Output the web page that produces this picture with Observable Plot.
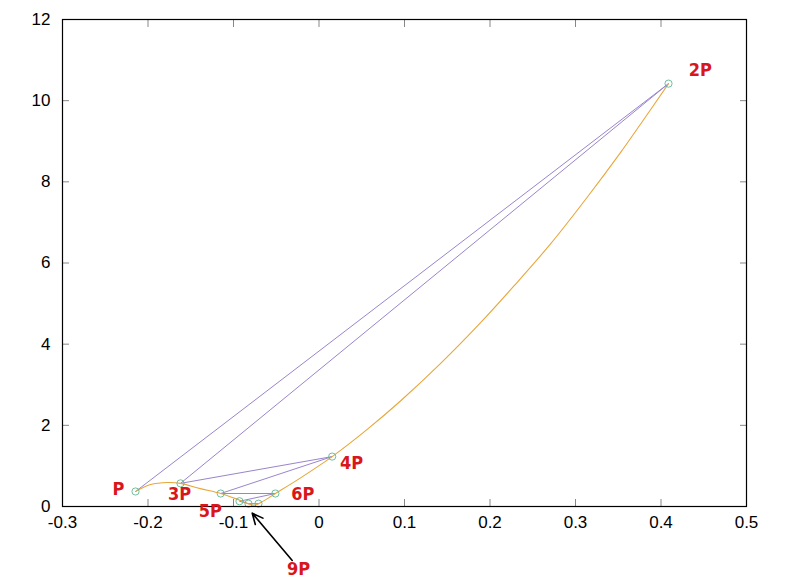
<!DOCTYPE html>
<html>
<head>
<meta charset="utf-8">
<script src="https://cdn.jsdelivr.net/npm/d3@7"></script>
<script src="https://cdn.jsdelivr.net/npm/@observablehq/plot@0.6"></script>
<style>
  html, body { margin: 0; padding: 0; background: #ffffff; }
  #chart svg { display: block; }
</style>
</head>
<body>
<div id="chart"></div>
<script>
// Multiples of the point P (in the order they are connected)
const multipleNames = ["P", "2P", "3P", "4P", "5P", "6P", "7P", "8P", "9P"];
const multipleX = [-0.2146, 0.4088, -0.162, 0.0154, -0.115, -0.051, -0.093, -0.0825, -0.0708];
const multipleY = [0.37, 10.42, 0.57, 1.23, 0.32, 0.32, 0.13, 0.07, 0.07];

// The orange curve
const curveX = [-0.2146, -0.197, -0.177, -0.162, -0.139, -0.115, -0.092, -0.0766, -0.068, -0.051, -0.022, 0.0154, 0.0564, 0.0953, 0.142, 0.189, 0.2278, 0.2708, 0.3137, 0.3526, 0.378, 0.4088];
const curveY = [0.37, 0.54, 0.59, 0.57, 0.44, 0.32, 0.15, 0.03, 0.10, 0.32, 0.70, 1.23, 1.90, 2.60, 3.52, 4.53, 5.43, 6.47, 7.62, 8.72, 9.48, 10.42];

// Red labels
const labelText = ["P", "2P", "3P", "4P", "5P", "6P", "9P"];
const labelX = [-0.2345, 0.446, -0.163, 0.038, -0.127, -0.019, -0.024];
const labelY = [0.42, 10.74, 0.30, 1.06, -0.12, 0.30, -1.55];

// Arrow pointing at 9P
const arrowTail = [-0.0313, -1.33];
const arrowHead = [-0.0781, -0.165];

// Ticks
const xTicks = [-0.3, -0.2, -0.1, 0, 0.1, 0.2, 0.3, 0.4, 0.5];
const yTicks = [0, 2, 4, 6, 8, 10, 12];

const multiples = multipleNames.map((name, i) => ({name, x: multipleX[i], y: multipleY[i]}));
const curve = curveX.map((x, i) => ({x, y: curveY[i]}));
const labels = labelText.map((t, i) => ({t, x: labelX[i], y: labelY[i]}));
const arrow = [{x1: arrowTail[0], y1: arrowTail[1], x2: arrowHead[0], y2: arrowHead[1]}];

const tickColor = "#888888";
const fmt = d => String(d);

const chart = Plot.plot({
  width: 800,
  height: 587,
  marginLeft: 62,
  marginRight: 54,
  marginTop: 19,
  marginBottom: 81,
  style: {fontFamily: "'Liberation Sans', Arial, sans-serif", fontSize: "17px", background: "#ffffff", color: "#000"},
  x: {domain: [-0.3, 0.5], label: null},
  y: {domain: [0, 12], label: null},
  marks: [
    // tick labels
    Plot.axisX({ticks: xTicks, tickFormat: fmt, tickSize: 0, tickPadding: 9, label: null, fontSize: 17}),
    Plot.axisY({ticks: yTicks, tickFormat: fmt, tickSize: 0, tickPadding: 12, label: null, fontSize: 17}),
    // inward ticks on all four sides
    Plot.axisX({ticks: xTicks, tickFormat: () => "", tickSize: -7, stroke: tickColor, label: null}),
    Plot.axisX({anchor: "top", ticks: xTicks, tickFormat: () => "", tickSize: -7, stroke: tickColor, label: null}),
    Plot.axisY({ticks: yTicks, tickFormat: () => "", tickSize: -7, stroke: tickColor, label: null}),
    Plot.axisY({anchor: "right", ticks: yTicks, tickFormat: () => "", tickSize: -7, stroke: tickColor, label: null}),
    // chords between successive multiples
    Plot.line(multiples, {x: "x", y: "y", stroke: "#9a84cc", strokeWidth: 1}),
    // curve
    Plot.line(curve, {x: "x", y: "y", curve: "catmull-rom", stroke: "#e8a73a", strokeWidth: 1.1}),
    // points
    Plot.dot(multiples, {x: "x", y: "y", r: 3.6, stroke: "#5fb896", strokeWidth: 0.9, fill: "none"}),
    // frame
    Plot.frame({stroke: "#000", strokeWidth: 1.2}),
    // arrow
    Plot.arrow(arrow, {x1: "x1", y1: "y1", x2: "x2", y2: "y2", stroke: "#000", strokeWidth: 1.6, headLength: 11, headAngle: 50}),
    // labels
    Plot.text(labels, {x: "x", y: "y", text: "t", fill: "#d9161c", fontWeight: "bold", fontSize: 18, fontFamily: "'Liberation Sans Narrow', 'DejaVu Sans Condensed', sans-serif"})
  ]
});

document.getElementById("chart").appendChild(chart);
</script>
</body>
</html>
